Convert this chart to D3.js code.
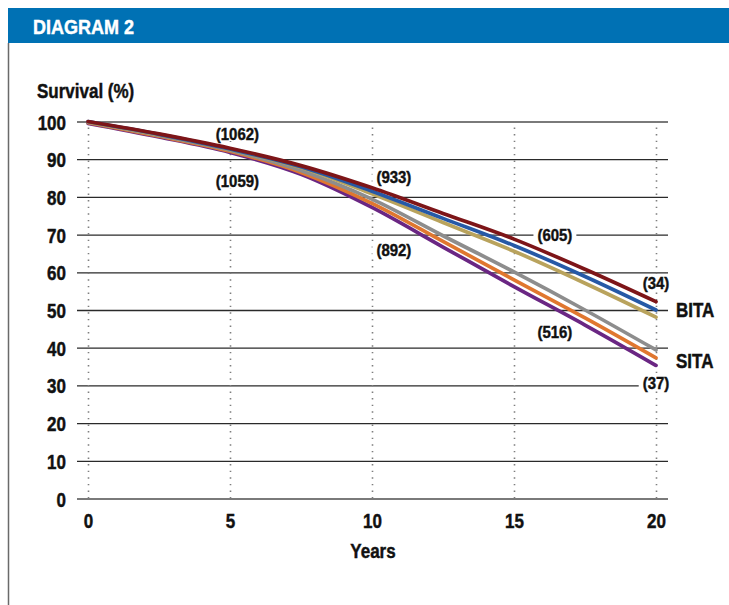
<!DOCTYPE html>
<html>
<head>
<meta charset="utf-8">
<script src="https://cdn.jsdelivr.net/npm/d3@7/dist/d3.min.js"></script>
<style>
  html, body { margin: 0; padding: 0; background: #fff; }
  svg { display: block; }
  text { font-family: "Liberation Sans", Arial, sans-serif; font-weight: bold; fill: #111; stroke: #111; stroke-width: 0.45px; }
</style>
</head>
<body>
<svg id="chart" width="729" height="605"></svg>
<script>
// Survival over follow-up, six curves (three BITA, three SITA)
const years = [0, 2.5, 5, 7.5, 10, 12.5, 15, 17.5, 20];
const bita1 = [100, 96.7, 92.9, 88.3, 82.4, 75.6, 68.8, 60.8, 52.2];
const bita2 = [100, 96.6, 92.7, 88.0, 81.5, 74.3, 67.1, 58.9, 50.0];
const bita3 = [99.9, 96.5, 92.6, 87.8, 80.8, 73.2, 65.6, 57.1, 48.1];
const sita1 = [99.8, 96.3, 92.4, 87.0, 79.4, 69.7, 60.1, 50.0, 39.4];
const sita2 = [99.7, 96.1, 92.1, 86.5, 78.3, 68.2, 58.0, 47.9, 37.3];
const sita3 = [99.5, 95.9, 91.8, 86.0, 77.2, 66.7, 56.2, 46.0, 35.3];

const xTicks = [0, 5, 10, 15, 20];
const yTicks = [0, 10, 20, 30, 40, 50, 60, 70, 80, 90, 100];

// numbers at risk: text, year, survival value where the label is centred
const atRiskText  = ["(1062)", "(1059)", "(933)", "(892)", "(605)", "(516)", "(34)", "(37)"];
const atRiskYear  = [5.26, 5.26, 10.77, 10.77, 16.44, 16.44, 20, 20];
const atRiskValue = [96.7, 84.2, 85.3, 65.9, 69.8, 44.2, 57.2, 30.6];

const groupNames = ["BITA", "SITA"];
const groupValue = [50, 36.5];

const series = [
  { values: sita3, color: "#6a2683" },
  { values: sita2, color: "#e0772f" },
  { values: sita1, color: "#8d8d8d" },
  { values: bita3, color: "#b9a35d" },
  { values: bita2, color: "#2659a6" },
  { values: bita1, color: "#7d1518" }
];

const svg = d3.select("#chart");
const SX = 0.85; // horizontal squeeze for a condensed look

const x = d3.scaleLinear().domain([0, 20]).range([88, 656]);
const y = d3.scaleLinear().domain([0, 100]).range([498.5, 121.5]);
const gridLeft = 77, gridRight = 668;

// header band and frame
svg.append("rect").attr("x", 8).attr("y", 8).attr("width", 721).attr("height", 35).attr("fill", "#0071b4");
svg.append("line").attr("x1", 8.5).attr("x2", 8.5).attr("y1", 43).attr("y2", 605)
  .attr("stroke", "#6a6a6a").attr("stroke-width", 1.5);

function squeezed(parent, px, py, str, size, anchor, sx) {
  const s = sx || SX;
  return parent.append("text")
    .attr("transform", `translate(${px},${py}) scale(${s},1)`)
    .attr("text-anchor", anchor || "start")
    .attr("dominant-baseline", "central")
    .style("font-size", size + "px")
    .text(str);
}

squeezed(svg, 33, 27, "DIAGRAM 2", 20, "start", 0.9).style("fill", "#fff").style("stroke", "#fff");
squeezed(svg, 37, 91, "Survival (%)", 20, "start");
squeezed(svg, 373, 551, "Years", 20, "middle");

// horizontal grid
const hGrid = svg.append("g").attr("transform", `translate(${gridLeft},0)`)
  .call(d3.axisLeft(y).tickValues(yTicks).tickSize(-(gridRight - gridLeft)).tickFormat(""));
hGrid.select(".domain").remove();
hGrid.selectAll(".tick line")
  .attr("stroke", d => (d === 0 || d === 100) ? "#7a7a7a" : "#2a2a2a")
  .attr("stroke-width", d => (d === 0 || d === 100) ? 2 : 1.3);

// vertical dotted grid
const vGrid = svg.append("g").attr("transform", `translate(0,${y(0)})`)
  .call(d3.axisBottom(x).tickValues(xTicks).tickSize(-(y(0) - y(100))).tickFormat(""));
vGrid.select(".domain").remove();
vGrid.selectAll(".tick line")
  .attr("stroke", "#7e7e7e").attr("stroke-width", 1.6).attr("stroke-dasharray", "1.4,5.2");

// y tick labels
const yAxis = svg.append("g").attr("transform", `translate(${gridLeft},0)`)
  .call(d3.axisLeft(y).tickValues(yTicks).tickSize(0).tickPadding(0).tickFormat(d3.format("d")));
yAxis.select(".domain").remove();
yAxis.selectAll(".tick text")
  .attr("x", null).attr("dy", null)
  .attr("transform", `translate(-11,0.5) scale(${SX},1)`)
  .attr("dominant-baseline", "central")
  .style("font-size", "20px").style("font-family", null).style("fill", "#111");

// x tick labels
const xAxis = svg.append("g").attr("transform", `translate(0,${y(0)})`)
  .call(d3.axisBottom(x).tickValues(xTicks).tickSize(0).tickPadding(0).tickFormat(d3.format("d")));
xAxis.select(".domain").remove();
xAxis.selectAll(".tick text")
  .attr("y", null).attr("dy", null)
  .attr("transform", `translate(0,22) scale(${SX},1)`)
  .attr("dominant-baseline", "central")
  .style("font-size", "20px").style("font-family", null).style("fill", "#111");

// knockout layer sits between grid and curves
const knock = svg.append("g");
const curveLayer = svg.append("g");
const labelLayer = svg.append("g");

const line = d3.line()
  .x((d, i) => x(years[i]))
  .y(d => y(d))
  .curve(d3.curveMonotoneX);

curveLayer.selectAll("path").data(series).join("path")
  .attr("d", d => line(d.values))
  .attr("fill", "none")
  .attr("stroke", d => d.color)
  .attr("stroke-width", 3.7)
  .attr("stroke-linecap", "round");

// numbers-at-risk labels with white backing so grid lines break around them
atRiskText.forEach((t, i) => {
  const px = x(atRiskYear[i]), py = y(atRiskValue[i]);
  const txt = squeezed(labelLayer, px, py, t, 17, "middle", 0.88);
  const bb = txt.node().getBBox();
  const pad = 4;
  knock.append("rect")
    .attr("x", px + bb.x * 0.88 - pad)
    .attr("y", py + bb.y + 2)
    .attr("width", bb.width * 0.88 + pad * 2)
    .attr("height", bb.height - 4)
    .attr("fill", "#fff");
});

groupNames.forEach((g, i) => {
  squeezed(labelLayer, x(20) + 20, y(groupValue[i]), g, 20, "start");
});
</script>
</body>
</html>
